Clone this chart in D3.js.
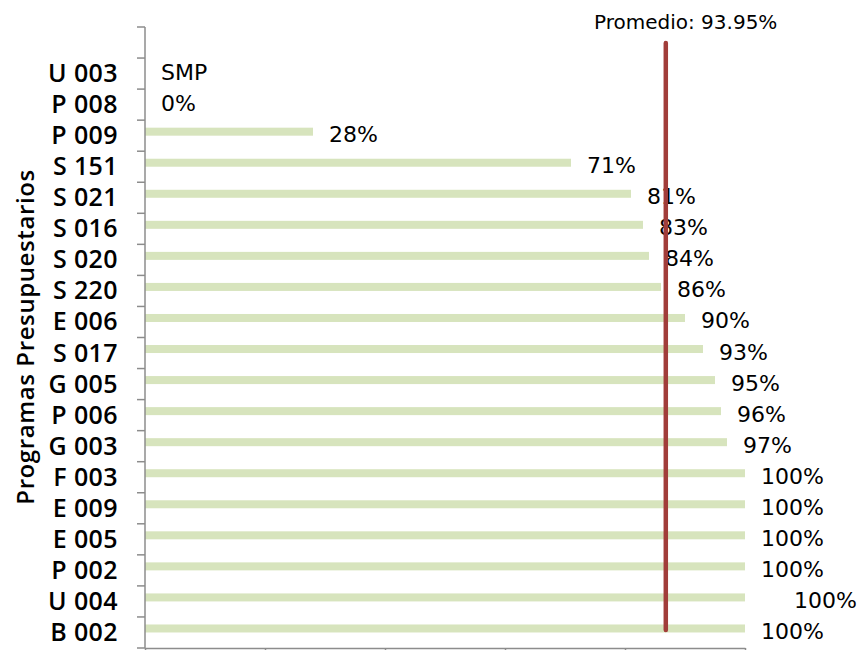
<!DOCTYPE html>
<html>
<head>
<meta charset="utf-8">
<script src="https://cdn.jsdelivr.net/npm/d3@7"></script>
<style>
  body { margin: 0; background: #fff; }
  text { fill: #000; }
</style>
</head>
<body>
<div id="chart"></div>
<script>
var width = 865,
height = 650;

// categories from top to bottom (the first band is empty in the original)
var programas = ['', 'U 003', 'P 008', 'P 009', 'S 151', 'S 021', 'S 016', 'S 020', 'S 220', 'E 006',
  'S 017', 'G 005', 'P 006', 'G 003', 'F 003', 'E 009', 'E 005', 'P 002', 'U 004', 'B 002'];
// null = no bar
var valores = [null, null, 0, 28, 71, 81, 83, 84, 86, 90, 93, 95, 96, 97, 100, 100, 100, 100, 100, 100];
var etiquetas = ['', 'SMP', '0%', '28%', '71%', '81%', '83%', '84%', '86%', '90%', '93%', '95%', '96%',
  '97%', '100%', '100%', '100%', '100%', '100%', '100%'];
var xTicks = [0, 20, 40, 60, 80, 100];
var promedioTexto = 'Promedio: 93.95%';
var promedioLinea = 86.8; // where the line sits on the axis in the picture

var plotLeft = 145, plotRight = 745, plotTop = 27, plotBottom = 648;
var labelFont = '"DejaVu Sans", sans-serif',
axisFont = '"Open Sans", sans-serif';

const x = d3.scaleLinear().domain([0, 100]).range([plotLeft, plotRight]);
const y = d3.scaleBand().domain(d3.range(programas.length)).range([plotTop, plotBottom]);

const svg = d3.select('#chart').append('svg')
  .attr('width', width)
  .attr('height', height);

// bars
svg.selectAll('rect.bar')
  .data(valores.map((v, i) => ({ v: v, i: i })).filter(d => d.v !== null && d.v > 0))
  .enter().append('rect')
  .attr('class', 'bar')
  .attr('x', x(0))
  .attr('y', d => y(d.i) + y.bandwidth() / 2 - 8)
  .attr('width', d => x(d.v) - x(0))
  .attr('height', 8)
  .attr('fill', '#d7e4bd');

// value labels
svg.selectAll('text.val')
  .data(etiquetas.map((t, i) => ({ t: t, i: i })).filter(d => d.t !== ''))
  .enter().append('text')
  .attr('class', 'val')
  .attr('x', d => {
    var v = valores[d.i] === null ? 0 : valores[d.i];
    var extra = programas[d.i] == 'U 004' ? 33 : 0;
    return x(v) + 16 + extra;
  })
  .attr('y', d => y(d.i) + y.bandwidth() / 2 - 1)
  .attr('dominant-baseline', 'central')
  .style('font-family', labelFont)
  .style('font-size', '22px')
  .text(d => d.t);

// y axis
const yAxis = d3.axisLeft(y).tickSize(0).tickFormat(i => programas[i]);
const gy = svg.append('g')
  .attr('transform', 'translate(' + plotLeft + ',0)')
  .call(yAxis);
gy.select('.domain').remove();
gy.selectAll('text')
  .attr('x', -27)
  .attr('dy', '0.34em')
  .attr('fill', '#000')
  .style('font-family', axisFont)
  .style('font-size', '25px')
  .style('font-weight', '600')
  .style('letter-spacing', '0.4px');

// y band tick marks
svg.selectAll('line.ytick')
  .data(d3.range(programas.length + 1))
  .enter().append('line')
  .attr('x1', plotLeft - 8)
  .attr('x2', plotLeft)
  .attr('y1', i => plotTop + i * y.step())
  .attr('y2', i => plotTop + i * y.step())
  .attr('stroke', '#8c8c8c')
  .attr('stroke-width', 1.5);
svg.append('line')
  .attr('x1', plotLeft).attr('x2', plotLeft)
  .attr('y1', plotTop).attr('y2', plotBottom)
  .attr('stroke', '#8c8c8c')
  .attr('stroke-width', 1.5);

// x axis
const xAxis = d3.axisBottom(x).tickValues(xTicks).tickSize(7).tickFormat('').tickSizeOuter(0);
const gx = svg.append('g')
  .attr('transform', 'translate(0,' + plotBottom + ')')
  .call(xAxis);
gx.select('.domain').attr('stroke', '#8c8c8c').attr('stroke-width', 1.5);
gx.selectAll('.tick line').attr('stroke', '#8c8c8c').attr('stroke-width', 1.5);

// average line
svg.append('line')
  .attr('x1', x(promedioLinea)).attr('x2', x(promedioLinea))
  .attr('y1', 43).attr('y2', 630)
  .attr('stroke', '#a13d3a')
  .attr('stroke-width', 4.5)
  .attr('stroke-linecap', 'round');

svg.append('text')
  .attr('x', 594)
  .attr('y', 22)
  .attr('dominant-baseline', 'central')
  .style('font-family', labelFont)
  .style('font-size', '20px')
  .text(promedioTexto);

// axis title
svg.append('text')
  .attr('transform', 'translate(34,337) rotate(-90)')
  .attr('text-anchor', 'middle')
  .style('font-family', axisFont)
  .style('font-size', '24px')
  .style('font-weight', '600')
  .style('letter-spacing', '0.6px')
  .text('Programas Presupuestarios');
</script>
</body>
</html>
